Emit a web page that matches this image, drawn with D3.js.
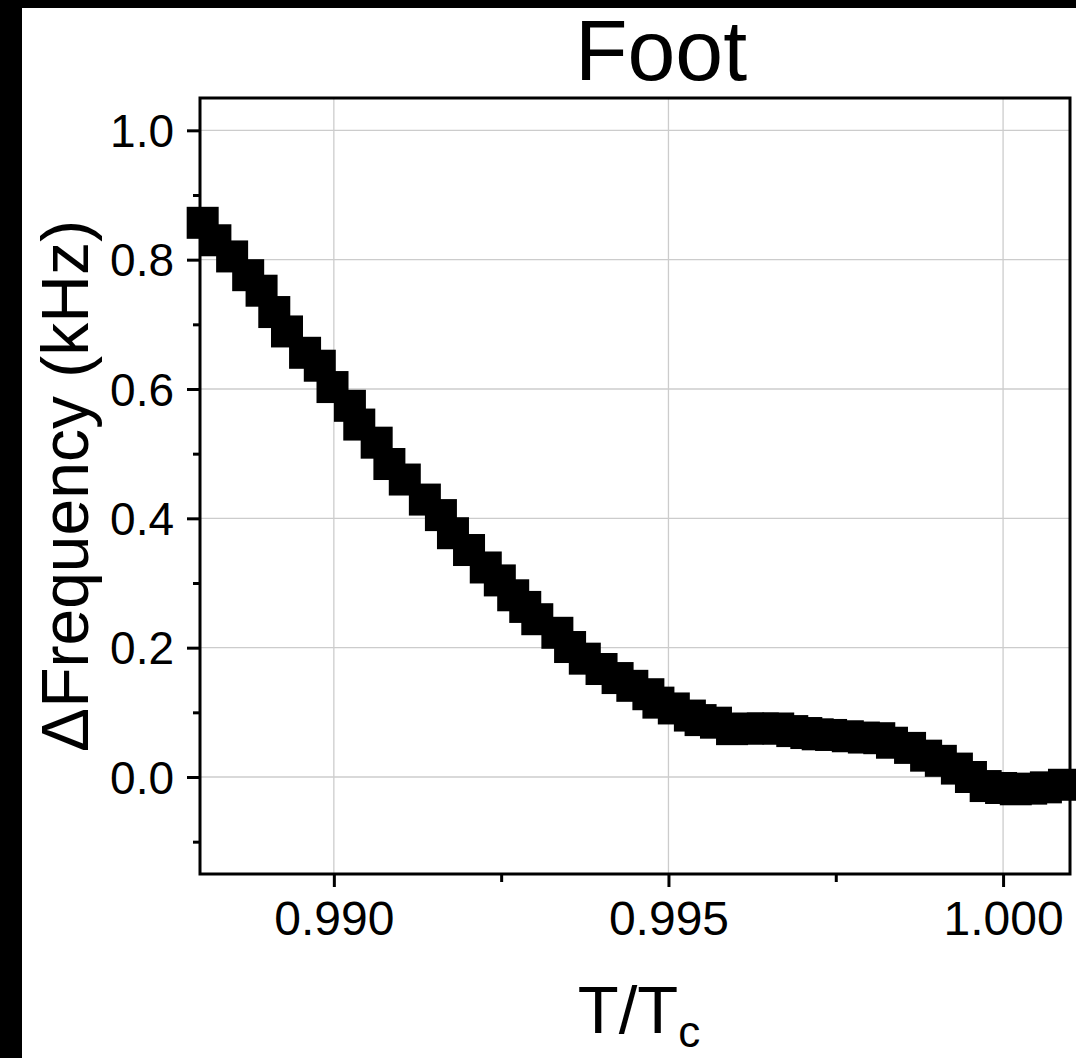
<!DOCTYPE html>
<html>
<head>
<meta charset="utf-8">
<script src="https://cdn.jsdelivr.net/npm/d3@7"></script>
<style>
  html, body { margin: 0; padding: 0; background: #000; }
  svg { display: block; }
  text { font-family: "Liberation Sans", Arial, sans-serif; fill: #000; }
</style>
</head>
<body>
<script>
// ---- data ----
const xValues = [
  0.98804, 0.98823, 0.98848, 0.98872, 0.98892, 0.98911, 0.98930, 0.98957, 0.98979, 0.98998,
  0.99024, 0.99038, 0.99064, 0.99083, 0.99106, 0.99136, 0.99160, 0.99178, 0.99202, 0.99227,
  0.99248, 0.99268, 0.99286, 0.99304, 0.99334, 0.99353, 0.99375, 0.99400, 0.99424, 0.99446,
  0.99470, 0.99485, 0.99508, 0.99532, 0.99548, 0.99571, 0.99595, 0.99619, 0.99641, 0.99664,
  0.99685, 0.99706, 0.99723, 0.99743, 0.99768, 0.99792, 0.99815, 0.99834, 0.99861, 0.99885,
  0.99907, 0.99931, 0.99952, 0.99974, 0.99997, 1.00019, 1.00042, 1.00064, 1.00091
];
const yValues = [
  0.857, 0.830, 0.805, 0.776, 0.752, 0.719, 0.689, 0.656, 0.636, 0.603,
  0.574, 0.545, 0.517, 0.484, 0.460, 0.429, 0.405, 0.377, 0.351, 0.324,
  0.304, 0.281, 0.263, 0.244, 0.223, 0.201, 0.183, 0.167, 0.153, 0.141,
  0.128, 0.115, 0.106, 0.095, 0.088, 0.084, 0.074, 0.075, 0.075, 0.075,
  0.071, 0.068, 0.066, 0.065, 0.063, 0.061, 0.060, 0.053, 0.045, 0.033,
  0.025, 0.013, 0.000, -0.014, -0.017, -0.019, -0.018, -0.016, -0.012
];
const xMajorTicks = [0.990, 0.995, 1.000];
const xMinorTicks = [0.9925, 0.9975];
const xTickLabels = ["0.990", "0.995", "1.000"];
const yMajorTicks = [0.0, 0.2, 0.4, 0.6, 0.8, 1.0];
const yMinorTicks = [-0.1, 0.1, 0.3, 0.5, 0.7, 0.9];
const yTickLabels = ["0.0", "0.2", "0.4", "0.6", "0.8", "1.0"];
const xDomain = [0.988, 1.001];
const yDomain = [-0.15, 1.05];
const titleText = "Foot";
const yTitleText = "ΔFrequency (kHz)";

// ---- layout ----
const W = 1076, H = 1058;
const plot = { left: 200, right: 1070, top: 98, bottom: 874 };

const svg = d3.select("body").append("svg").attr("width", W).attr("height", H);
svg.append("rect").attr("x", 0).attr("y", 0).attr("width", W).attr("height", H).attr("fill", "#000");
svg.append("rect").attr("x", 22).attr("y", 8).attr("width", W - 22).attr("height", H - 8).attr("fill", "#fff");

const x = d3.scaleLinear().domain(xDomain).range([plot.left, plot.right]);
const y = d3.scaleLinear().domain(yDomain).range([plot.bottom, plot.top]);

// gridlines
const grid = svg.append("g").attr("stroke", "#cccccc").attr("stroke-width", 1.3);
grid.selectAll("line.v").data(xMajorTicks).join("line")
  .attr("x1", d => x(d)).attr("x2", d => x(d))
  .attr("y1", plot.top).attr("y2", plot.bottom);
grid.selectAll("line.h").data(yMajorTicks).join("line")
  .attr("x1", plot.left).attr("x2", plot.right)
  .attr("y1", d => y(d)).attr("y2", d => y(d));

// axes with ticks
const xAxis = d3.axisBottom(x).tickValues(xMajorTicks).tickSize(13)
  .tickFormat((d, i) => xTickLabels[i]).tickPadding(11);
const xAxisMinor = d3.axisBottom(x).tickValues(xMinorTicks).tickSize(8).tickFormat("");
const yAxis = d3.axisLeft(y).tickValues(yMajorTicks).tickSize(13)
  .tickFormat((d, i) => yTickLabels[i]).tickPadding(13);
const yAxisMinor = d3.axisLeft(y).tickValues(yMinorTicks).tickSize(7).tickFormat("");

function styleAxis(g) {
  g.select(".domain").remove();
  g.selectAll(".tick line").attr("stroke", "#000").attr("stroke-width", 3);
  g.selectAll("text").attr("fill", "#000").attr("font-family", '"Liberation Sans", Arial, sans-serif');
}

const gx = svg.append("g").attr("transform", `translate(0,${plot.bottom})`).call(xAxis).call(styleAxis);
gx.selectAll("text").attr("font-size", 48).attr("dy", 0).attr("y", 61);
svg.append("g").attr("transform", `translate(0,${plot.bottom})`).call(xAxisMinor).call(styleAxis);

const gy = svg.append("g").attr("transform", `translate(${plot.left},0)`).call(yAxis).call(styleAxis);
gy.selectAll("text").attr("font-size", 46).attr("dy", "0.35em");
svg.append("g").attr("transform", `translate(${plot.left},0)`).call(yAxisMinor).call(styleAxis);

// frame
svg.append("rect")
  .attr("x", plot.left).attr("y", plot.top)
  .attr("width", plot.right - plot.left).attr("height", plot.bottom - plot.top)
  .attr("fill", "none").attr("stroke", "#000").attr("stroke-width", 3);

// data squares
const S = 32;
const pts = xValues.map((v, i) => ({ x: v, y: yValues[i] }));
svg.append("g").selectAll("rect").data(pts).join("rect")
  .attr("x", d => x(d.x) - S / 2)
  .attr("y", d => y(d.y) - S / 2)
  .attr("width", S).attr("height", S)
  .attr("fill", "#000");

// title
svg.append("text").attr("x", 661).attr("y", 80)
  .attr("text-anchor", "middle").attr("font-size", 86).text(titleText);

// y title
svg.append("text")
  .attr("transform", `translate(88,${(plot.top + plot.bottom) / 2}) rotate(-90)`)
  .attr("text-anchor", "middle").attr("font-size", 66).text(yTitleText);

// x title T/Tc
const xt = svg.append("text").attr("x", 639).attr("y", 1033)
  .attr("text-anchor", "middle").attr("font-size", 67);
xt.append("tspan").text("T/T");
xt.append("tspan").attr("font-size", 44).attr("dy", 14).text("c");
</script>
</body>
</html>
